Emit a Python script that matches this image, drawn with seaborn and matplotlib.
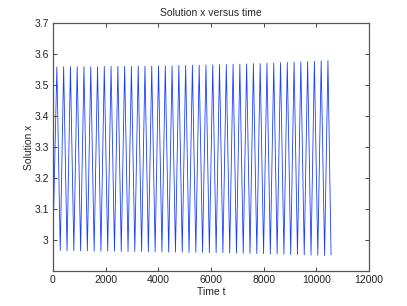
import matplotlib
matplotlib.use("Agg")
import matplotlib.pyplot as plt
import matplotlib.ticker as mticker
import seaborn as sns
import pandas as pd

# Vertex times and values of the oscillation
peak_t = [150, 407, 665, 922, 1179, 1437, 1694, 1951, 2208, 2466, 2723, 2980, 3238, 3495,
          3752, 4010, 4267, 4524, 4781, 5039, 5296, 5553, 5811, 6068, 6325, 6583, 6840, 7097,
          7354, 7612, 7869, 8126, 8384, 8641, 8898, 9156, 9413, 9670, 9927, 10185, 10442]
peak_x = [3.558, 3.559, 3.559, 3.559, 3.559, 3.559, 3.559, 3.560, 3.560, 3.560, 3.560, 3.560, 3.561, 3.561,
          3.561, 3.562, 3.562, 3.562, 3.563, 3.563, 3.564, 3.564, 3.565, 3.565, 3.566, 3.566, 3.567, 3.567,
          3.568, 3.569, 3.569, 3.570, 3.571, 3.572, 3.573, 3.574, 3.575, 3.576, 3.577, 3.578, 3.579]
trough_t = [279, 536, 794, 1051, 1308, 1566, 1823, 2080, 2337, 2595, 2852, 3109, 3367, 3624,
            3881, 4139, 4396, 4653, 4910, 5168, 5425, 5682, 5940, 6197, 6454, 6712, 6969, 7226,
            7483, 7741, 7998, 8255, 8513, 8770, 9027, 9285, 9542, 9799, 10056, 10314]
trough_x = [2.966, 2.965, 2.965, 2.965, 2.965, 2.964, 2.964, 2.964, 2.964, 2.963, 2.963, 2.963, 2.963, 2.962,
            2.962, 2.962, 2.961, 2.961, 2.961, 2.960, 2.960, 2.960, 2.959, 2.959, 2.959, 2.958, 2.958, 2.957,
            2.957, 2.956, 2.956, 2.955, 2.955, 2.954, 2.953, 2.953, 2.952, 2.951, 2.951, 2.950]
start_t, start_x = 0, 2.99
end_t, end_x = 10560, 2.952

x_ticks = [0, 2000, 4000, 6000, 8000, 10000, 12000]
y_ticks = [3.0, 3.1, 3.2, 3.3, 3.4, 3.5, 3.6, 3.7]

times = [start_t]
vals = [start_x]
for i in range(len(peak_t)):
    times.append(peak_t[i]); vals.append(peak_x[i])
    if i < len(trough_t):
        times.append(trough_t[i]); vals.append(trough_x[i])
times.append(end_t); vals.append(end_x)
df = pd.DataFrame({"t": times, "x": vals})

sns.set_style("white")
plt.rcParams["font.family"] = ["Liberation Sans", "DejaVu Sans"]

fig = plt.figure(figsize=(4.07, 3.06), dpi=100)
ax = fig.add_axes([0.130, 0.1144, 0.7766, 0.8104])
sns.lineplot(data=df, x="t", y="x", ax=ax, sort=False, estimator=None,
             color=(0.1, 0.25, 1.0), linewidth=0.6)

ax.set_xlim(0, 12000)
ax.set_ylim(2.9, 3.7)
ax.set_xticks(x_ticks)
ax.set_yticks(y_ticks)
ax.yaxis.set_major_formatter(mticker.FuncFormatter(lambda v, p: f"{v:g}"))
ax.tick_params(direction="in", length=3, width=0.6, colors="#222222", labelsize=7.5,
               top=True, right=True, bottom=True, left=True, pad=3)
for s in ax.spines.values():
    s.set_visible(True)
    s.set_color("#555555")
    s.set_linewidth(0.9)
ax.set_xlabel("Time t", fontsize=7.5, labelpad=1)
ax.set_ylabel("Solution x", fontsize=7.5, labelpad=0)
ax.set_title("Solution x versus time", fontsize=7.5, pad=5)

fig.savefig("out.png", dpi=100)
